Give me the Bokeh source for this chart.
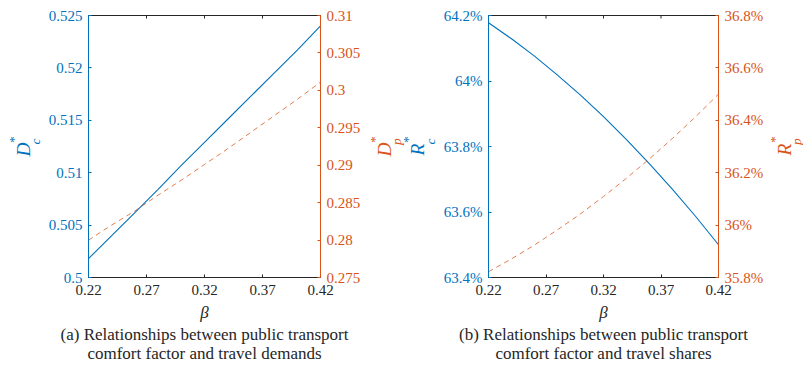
import math
from bokeh.plotting import figure
from bokeh.models import LinearAxis, Range1d, FixedTicker, Label, Title
from bokeh.layouts import row
from bokeh.embed import file_html
from bokeh.resources import INLINE

# ---------------- data ----------------
beta = [0.22, 0.24, 0.26, 0.28, 0.30, 0.32, 0.34, 0.36, 0.38, 0.40, 0.42]
demand_car = [0.5018, 0.5040, 0.5062, 0.5084, 0.5107, 0.5129, 0.5151, 0.5173, 0.5195, 0.5217, 0.5240]
demand_pt = [0.2800, 0.2820, 0.2839, 0.2860, 0.2880, 0.2901, 0.2922, 0.2944, 0.2966, 0.2988, 0.3011]
share_car = [64.178, 64.129, 64.076, 64.018, 63.957, 63.891, 63.821, 63.747, 63.669, 63.587, 63.500]
share_pt = [35.822, 35.871, 35.924, 35.982, 36.043, 36.109, 36.179, 36.253, 36.331, 36.413, 36.500]

x_ticks = [0.22, 0.27, 0.32, 0.37, 0.42]
x_tick_labels = ["0.22", "0.27", "0.32", "0.37", "0.42"]
dc_ticks = [0.5, 0.505, 0.51, 0.515, 0.52, 0.525]
dc_tick_labels = ["0.5", "0.505", "0.51", "0.515", "0.52", "0.525"]
dp_ticks = [0.275, 0.28, 0.285, 0.29, 0.295, 0.3, 0.305, 0.31]
dp_tick_labels = ["0.275", "0.28", "0.285", "0.29", "0.295", "0.3", "0.305", "0.31"]
rc_ticks = [63.4, 63.6, 63.8, 64.0, 64.2]
rc_tick_labels = ["63.4%", "63.6%", "63.8%", "64%", "64.2%"]
rp_ticks = [35.8, 36.0, 36.2, 36.4, 36.6, 36.8]
rp_tick_labels = ["35.8%", "36%", "36.2%", "36.4%", "36.6%", "36.8%"]

caption_a = ["(a) Relationships between public transport", "comfort factor and travel demands"]
caption_b = ["(b) Relationships between public transport", "comfort factor and travel shares"]

BLUE = "#0072BD"
RED = "#D95319"
DARK = "#262626"
FONT = "Liberation Serif"
H = 366
FRAME_TOP = 15
FRAME_BOTTOM = 277


def style_axis(ax, ticks, labels, color):
    ax.ticker = FixedTicker(ticks=ticks)
    ax.major_label_overrides = dict(zip(ticks, labels))
    ax.axis_line_color = color
    ax.major_tick_line_color = color
    ax.major_tick_in = 3
    ax.major_tick_out = 0
    ax.minor_tick_line_color = None
    ax.major_label_text_color = color
    ax.major_label_text_font = FONT
    ax.major_label_text_font_size = "15px"
    ax.major_label_standoff = 6


def make_panel(width, left_border, right_border, yl, yr, y_left, y_right,
               lt, ll, rt, rl, caption):
    xr = (0.22, 0.42)
    p = figure(width=width, height=H, x_range=Range1d(*xr), y_range=Range1d(*yl),
               output_backend="svg", toolbar_location=None,
               min_border_left=left_border, min_border_right=right_border,
               min_border_top=FRAME_TOP, min_border_bottom=H - FRAME_BOTTOM)
    p.extra_y_ranges = {"right": Range1d(*yr)}
    p.xgrid.visible = False
    p.ygrid.visible = False
    p.outline_line_color = DARK

    style_axis(p.xaxis[0], x_ticks, x_tick_labels, DARK)
    p.xaxis[0].major_label_standoff = 7
    p.xaxis[0].axis_label = "\u03b2"
    p.xaxis[0].axis_label_text_font = FONT
    p.xaxis[0].axis_label_text_font_style = "italic"
    p.xaxis[0].axis_label_text_font_size = "17px"
    p.xaxis[0].axis_label_text_color = DARK
    p.xaxis[0].axis_label_standoff = 5
    style_axis(p.yaxis[0], lt, ll, BLUE)
    right = LinearAxis(y_range_name="right")
    style_axis(right, rt, rl, RED)
    p.add_layout(right, "right")

    for i, line in enumerate(caption):
        p.add_layout(Title(text=line, align="center", text_font=FONT,
                           text_font_size="17px", text_font_style="normal",
                           text_color=DARK, standoff=-3 if i == 0 else -1), "below")

    # inward tick marks on the top edge
    p.scatter(x_ticks, [yl[1]] * len(x_ticks), marker="dash", angle=math.pi / 2,
              size=6, line_color=DARK, line_width=1)

    p.line(beta, y_left, line_color=BLUE, line_width=1.1)
    p.line(beta, y_right, y_range_name="right", line_color=RED, line_width=0.9,
           line_dash="5 4", line_alpha=0.85)
    return p


def symbol_fig(width, symbols):
    """Narrow strip holding rotated axis symbols (letter + superscript * + subscript)."""
    f = figure(width=width, height=H, x_range=Range1d(0, width),
               y_range=Range1d(FRAME_BOTTOM, FRAME_TOP),
               output_backend="svg", toolbar_location=None, title=None,
               x_axis_location=None, y_axis_location=None,
               min_border_left=0, min_border_right=0,
               min_border_top=FRAME_TOP, min_border_bottom=H - FRAME_BOTTOM)
    f.xgrid.visible = False
    f.ygrid.visible = False
    f.outline_line_color = None
    for (cx, letter, sub, color, d_star, d_sub) in symbols:
        items = [(cx, 149, letter, 19.5, "italic"),
                 (cx + d_star, 139, "*", 13.5, "normal"),
                 (cx + d_sub, 141, sub, 13.5, "italic")]
        for (x, y, t, s, st) in items:
            f.add_layout(Label(x=x, y=y, text=t, text_font=FONT,
                               text_font_size=f"{s}px", text_color=color,
                               text_font_style=st, angle=math.pi / 2,
                               text_align="center", text_baseline="middle"))
    return f


s1 = symbol_fig(44, [(22.5, "D", "c", BLUE, -10, 12.5)])
p1 = make_panel(322, 44, 46, (0.5, 0.525), (0.275, 0.31),
                demand_car, demand_pt, dc_ticks, dc_tick_labels, dp_ticks, dp_tick_labels,
                caption_a)
s2 = symbol_fig(70, [(17.5, "D", "p", RED, -10, 12.5), (51, "R", "c", BLUE, -10, 12.5)])
p2 = make_panel(330, 52, 46, (63.4, 64.2), (35.8, 36.8),
                share_car, share_pt, rc_ticks, rc_tick_labels, rp_ticks, rp_tick_labels,
                caption_b)
s3 = symbol_fig(37, [(17.5, "R", "p", RED, -9.5, 12)])

layout = row(s1, p1, s2, p2, s3)
open("out.html", "w").write(file_html(layout, INLINE))
